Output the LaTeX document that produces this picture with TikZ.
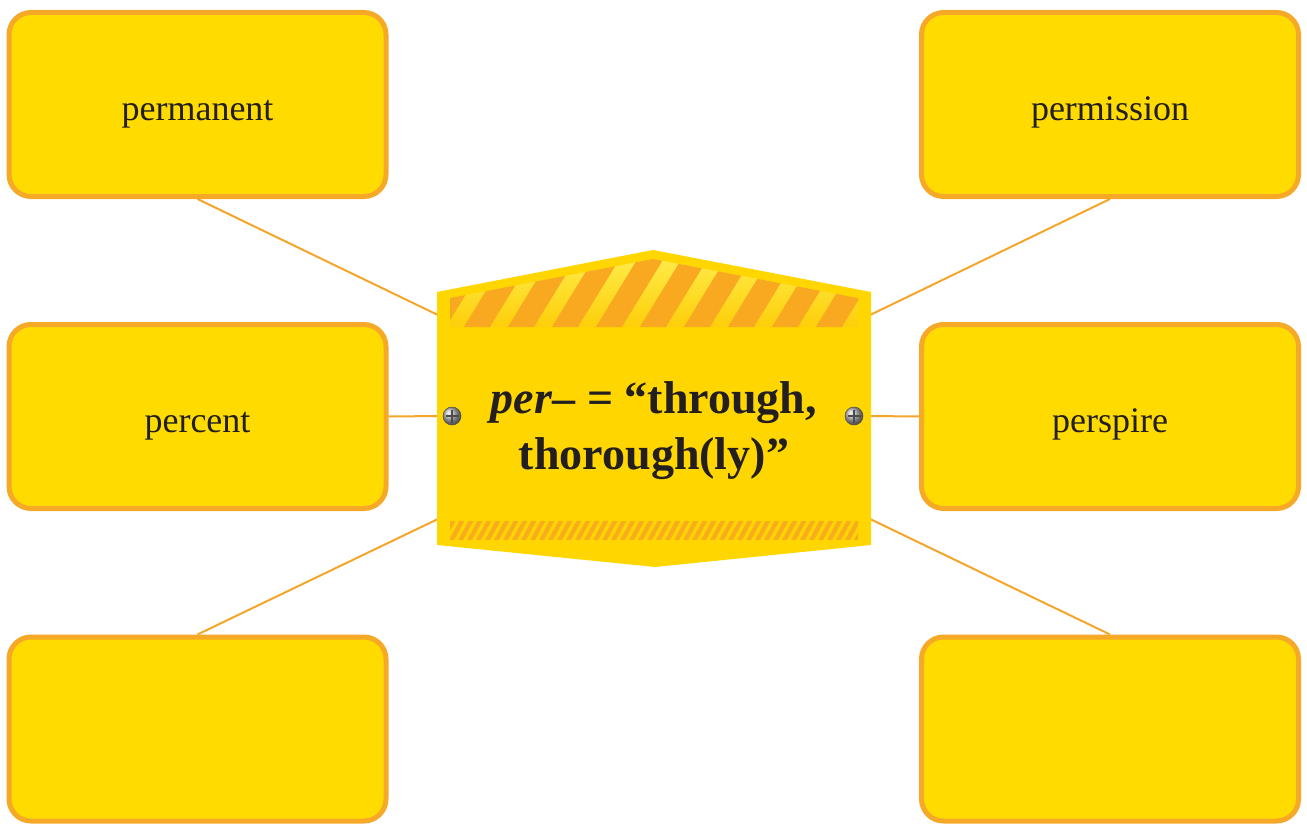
\documentclass[tikz,border=0pt]{standalone}
\usepackage{fontspec}
\setmainfont{Liberation Serif}
\definecolor{boxyellow}{HTML}{FFDB00}
\definecolor{boxorange}{HTML}{F6A827}
\definecolor{lineorange}{HTML}{F5A62A}
\definecolor{signyellow}{HTML}{FFD600}
\definecolor{stripeorange}{HTML}{F8A91F}
\definecolor{lightstripe}{HTML}{FFEE50}
\definecolor{textdark}{HTML}{231F20}
\newcommand{\boxtext}[1]{\raisebox{-16pt}[0pt][0pt]{#1}}
\tikzset{
  wordbox/.style={draw=boxorange, fill=boxyellow, line width=5pt, rounded corners=22pt,
    minimum width=377pt, minimum height=184pt, font=\fontsize{36}{40}\selectfont, text=textdark},
  link/.style={draw=lineorange, line width=2pt},
  screw/.style={ball color=gray!55, draw=gray!60!black, line width=0.5pt},
  screwcross/.style={draw=black!70, line width=1.3pt}
}
\begin{document}
\begin{tikzpicture}[x=1pt,y=-1pt]
\useasboundingbox (0,0) rectangle (1307,824);
% boxes
\node[wordbox] (tl) at (197.5,104.5) {\boxtext{permanent}};
\node[wordbox] (ml) at (197.5,416.5) {\boxtext{percent}};
\node[wordbox] (bl) at (197.5,729) {};
\node[wordbox] (tr) at (1110,104.5) {\boxtext{permission}};
\node[wordbox] (mr) at (1110,416.5) {\boxtext{perspire}};
\node[wordbox] (br) at (1110,729) {};
% attachment points on sign
\coordinate (sTL) at (440,316);
\coordinate (sML) at (440,416);
\coordinate (sBL) at (440,518);
\coordinate (sTR) at (868,316);
\coordinate (sMR) at (868,416);
\coordinate (sBR) at (868,518);
% connectors
\draw[link] (tl.south) -- (sTL);
\draw[link] (ml.east) -- (sML);
\draw[link] (bl.north) -- (sBL);
\draw[link] (tr.south) -- (sTR);
\draw[link] (mr.west) -- (sMR);
\draw[link] (br.north) -- (sBR);
% sign
\fill[signyellow] (437,292) -- (653,250) -- (871,292) -- (871,545) -- (655,567) -- (437,545) -- cycle;
\begin{scope}
  \clip (450,327) -- (450,298) -- (653,259) -- (858,298) -- (858,327) -- cycle;
  \shade[top color=lightstripe, bottom color=signyellow!80!stripeorange] (440,250) rectangle (870,330);
  \foreach \i in {-1,...,10} {
    \fill[stripeorange] (418+\i*44,330) -- (444+\i*44,330) -- (490+\i*44,255) -- (464+\i*44,255) -- cycle;
  }
\end{scope}
\begin{scope}
  \clip (450,521) rectangle (858,539);
  \foreach \i in {0,...,48} {
    \fill[stripeorange!90!signyellow] (440+\i*9,540) -- (445+\i*9,540) -- (456+\i*9,520) -- (451+\i*9,520) -- cycle;
  }
\end{scope}
% screws
\foreach \x/\n in {452/scl,854/scr} {
  \shade[screw] (\x,416) circle (9);
  \draw[screwcross] (\x-6.5,416) -- (\x+6.5,416);
  \draw[screwcross] (\x,409.5) -- (\x,422.5);
}
% title
\node[font=\bfseries\fontsize{46}{56}\selectfont, text=textdark, align=center] (title) at (654,431)
  {\textit{per}– = “through,\\thorough(ly)”};
\end{tikzpicture}
\end{document}
